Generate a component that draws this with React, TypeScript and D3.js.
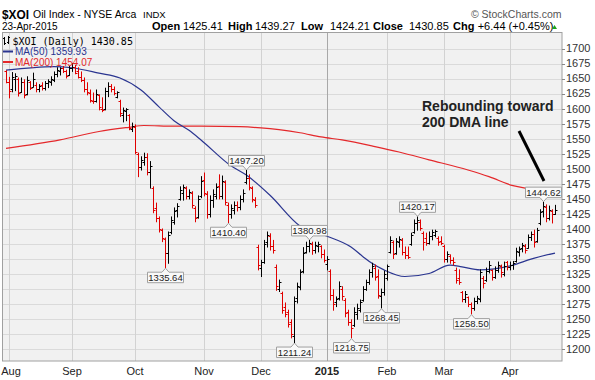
import React from "react";
import * as d3 from "d3";

// [open, high, low, close] — Jul 31 2014 .. Apr 23 2015 (daily)
const ohlc: [number, number, number, number][] = [
  [1662,1663,1643,1645],[1645,1652,1618,1630],[1632,1660,1628,1652],[1650,1658,1630,1655],[1650,1651,1621,1626],
  [1628,1651,1627,1645],[1645,1648,1618,1622],[1625,1653,1623,1648],[1644,1645,1632,1634],[1636,1659,1636,1650],
  [1640,1643,1628,1632],[1632,1640,1628,1638],[1640,1643,1631,1634],[1634,1645,1631,1643],[1642,1648,1635,1646],
  [1645,1653,1639,1650],[1648,1661,1645,1658],[1657,1668,1653,1665],[1663,1668,1656,1667],[1668,1670,1660,1662],
  [1662,1664,1651,1655],[1656,1670,1655,1668],[1668,1675,1662,1670],[1670,1672,1658,1660],[1662,1668,1651,1653],
  [1652,1661,1645,1648],[1648,1651,1628,1632],[1632,1643,1623,1627],[1626,1631,1611,1614],[1613,1626,1609,1612],
  [1612,1631,1611,1625],[1622,1623,1598,1602],[1600,1618,1595,1598],[1600,1634,1598,1630],[1630,1643,1620,1638],
  [1638,1640,1628,1632],[1632,1636,1623,1626],[1620,1628,1618,1627],[1612,1614,1587,1592],[1590,1601,1578,1598],
  [1596,1600,1580,1599],[1590,1590,1565,1568],[1566,1576,1562,1572],[1570,1573,1525,1528],[1525,1526,1487,1503],
  [1503,1520,1498,1515],[1512,1526,1506,1520],[1520,1525,1490,1494],[1494,1512,1468,1505],[1468,1470,1427,1432],
  [1435,1443,1412,1418],[1418,1420,1395,1400],[1398,1400,1379,1385],[1383,1385,1335.64,1360],[1360,1395,1343,1390],
  [1395,1420,1392,1415],[1412,1435,1408,1430],[1432,1442,1420,1438],[1450,1470,1448,1465],[1460,1473,1448,1470],
  [1468,1470,1450,1455],[1455,1465,1450,1462],[1460,1462,1435,1440],[1435,1437,1412,1418],[1420,1455,1418,1450],
  [1455,1487,1452,1480],[1482,1493,1455,1460],[1458,1462,1418,1425],[1425,1455,1420,1448],[1448,1465,1436,1458],
  [1455,1475,1450,1470],[1472,1490,1450,1455],[1455,1488,1450,1480],[1478,1480,1440,1445],[1440,1443,1410.4,1425],
  [1425,1440,1418,1435],[1432,1445,1425,1440],[1440,1445,1430,1436],[1436,1455,1432,1450],[1450,1465,1445,1460],
  [1478,1497.2,1475,1485],[1485,1490,1465,1470],[1468,1470,1445,1450],[1448,1452,1436,1440],[1370,1373,1332,1340],
  [1335,1348,1321,1345],[1345,1381,1343,1375],[1378,1395,1370,1390],[1388,1392,1365,1372],[1372,1381,1360,1365],
  [1337,1340,1298,1305],[1300,1315,1296,1312],[1293,1295,1260,1265],[1270,1277,1254,1258],[1262,1265,1237,1242],
  [1245,1249,1219,1225],[1222,1287,1211.24,1280],[1285,1310,1277,1305],[1303,1332,1299,1328],[1330,1369,1327,1360],
  [1362,1378,1360,1372],[1372,1380.98,1362,1376],[1375,1378,1358,1365],[1365,1378,1360,1374],[1372,1378,1362,1375],
  [1372,1372,1352,1358],[1358,1365,1345,1348],[1342,1354,1332,1350],[1330,1332,1282,1290],[1290,1299,1265,1275],
  [1278,1287,1271,1284],[1285,1312,1282,1305],[1300,1304,1282,1288],[1282,1284,1254,1260],[1262,1265,1240,1245],
  [1245,1249,1218.75,1235],[1240,1269,1238,1262],[1258,1275,1250,1268],[1265,1282,1262,1278],[1282,1304,1280,1300],
  [1300,1315,1298,1312],[1312,1332,1308,1328],[1328,1343,1320,1338],[1335,1340,1315,1320],[1322,1332,1285,1290],
  [1288,1300,1268.45,1295],[1296,1330,1290,1325],[1318,1340,1315,1338],[1362,1387,1360,1382],[1378,1380,1351,1358],
  [1360,1384,1358,1380],[1378,1387,1370,1384],[1382,1384,1357,1362],[1362,1370,1351,1356],[1356,1370,1351,1354],
  [1375,1393,1373,1390],[1395,1415,1393,1410],[1410,1420.17,1398,1415],[1412,1415,1398,1402],[1393,1395,1365,1378],
  [1385,1393,1373,1376],[1376,1395,1375,1388],[1388,1398,1382,1395],[1390,1398,1387,1396],[1385,1387,1373,1378],
  [1380,1387,1374,1376],[1372,1373,1345,1350],[1350,1362,1345,1358],[1355,1357,1343,1348],[1348,1352,1340,1345],
  [1332,1335,1310,1315],[1318,1332,1308,1312],[1295,1296,1279,1283],[1283,1296,1278,1292],[1287,1287,1271,1275],
  [1275,1277,1258.5,1268],[1268,1285,1265,1280],[1280,1288,1276,1285],[1284,1332,1279,1328],[1318,1321,1302,1310],
  [1315,1335,1313,1330],[1330,1346,1327,1340],[1332,1332,1315,1320],[1320,1337,1318,1332],[1332,1345,1328,1340],
  [1338,1340,1320,1328],[1325,1345,1322,1338],[1345,1346,1332,1336],[1336,1345,1332,1340],[1340,1346,1333,1343],
  [1346,1368,1345,1364],[1362,1370,1355,1367],[1368,1376,1362,1373],[1372,1374,1360,1365],[1368,1390,1368,1386],
  [1386,1395,1381,1392],[1392,1398,1370,1378],[1380,1401,1378,1398],[1410,1432,1407,1428],[1430,1444.62,1420,1438],
  [1436,1440,1412,1418],[1418,1438,1415,1432],[1430,1432,1410,1424.41],[1425.41,1439.27,1424.21,1430.85],
];

const monthLabels = ["Aug", "Sep", "Oct", "Nov", "Dec", "2015", "Feb", "Mar", "Apr"];
const monthStartIdx = [1, 22, 43, 66, 85, 107, 127, 146, 168];
const yTicks = d3.range(1200, 1701, 25);

// Moving averages (bar index -> value)
const ma50Idx = [0, 16, 22, 31, 38, 45, 51, 56, 61, 65, 75, 80, 88, 98, 107, 115, 119, 122, 126, 133, 141, 148, 152, 158, 169, 175, 183];
const ma50Val = [1664, 1670, 1668, 1659, 1651, 1631, 1603, 1580, 1564, 1548, 1505, 1490, 1456, 1405, 1388, 1370, 1354, 1343, 1332, 1321, 1326, 1340, 1337, 1332, 1340, 1350, 1359.93];
const ma200Idx = [0, 18, 31, 41, 46, 56, 65, 78, 85, 91, 98, 105, 112, 123, 131, 141, 154, 161, 169, 174, 183];
const ma200Val = [1534, 1548, 1562, 1569, 1572, 1571, 1571, 1570, 1568, 1565, 1560, 1553, 1548, 1537, 1528, 1515, 1498, 1487, 1472, 1467, 1454.07];

// swing labels: bar index and whether it marks the high or the low
const swingIdx = [53, 74, 80, 96, 101, 115, 125, 137, 155, 179];
const swingKind = ["low", "low", "high", "low", "high", "low", "low", "high", "low", "high"];

const RED = "#e00000";
const BLACK = "#000000";
const NAVY = "#2a3590";
const MARED = "#e4282b";

export default function App() {
  const L = 2, R = 562, T = 32.5, B = 361;
  const x = d3.scaleLinear().domain([0, ohlc.length - 1]).range([6, 555]);
  const y = d3.scaleLinear().domain([1200, 1700]).range([349.3, 48.5]);

  const ma50Line = d3.line<number>()
    .x((_, i) => x(ma50Idx[i]))
    .y((d) => y(d))
    .curve(d3.curveMonotoneX);
  const ma200Line = d3.line<number>()
    .x((_, i) => x(ma200Idx[i]))
    .y((d) => y(d))
    .curve(d3.curveMonotoneX);

  const crisp = (v: number) => Math.round(v) + 0.5;
  const sans = "Arial, 'Liberation Sans', Helvetica, sans-serif";

  return (
    <svg width={595} height={380} style={{ position: "absolute", left: 0, top: 0, background: "#fff" }}
      fontFamily={sans}>
      <rect x={0} y={0} width={595} height={380} fill="#ffffff" />
      {/* header */}
      <text x={2} y={18.5} fontSize={13.5} fontWeight="bold" fill="#000" textLength={27} lengthAdjust="spacingAndGlyphs">$XOI</text>
      <text x={33} y={17.5} fontSize={10.5} fill="#000">Oil Index - NYSE Arca</text>
      <text x={143} y={17.5} fontSize={9.5} fill="#000">INDX</text>
      <text x={2} y={30} fontSize={10} fill="#000">23-Apr-2015</text>
      <g fontSize={11} fill="#000">
        <text x={152} y={30} fontWeight="bold">Open</text>
        <text x={183} y={30}>1425.41</text>
        <text x={228} y={30} fontWeight="bold">High</text>
        <text x={255} y={30}>1439.27</text>
        <text x={301} y={30} fontWeight="bold">Low</text>
        <text x={330} y={30}>1424.21</text>
        <text x={373} y={30} fontWeight="bold">Close</text>
        <text x={409} y={30}>1430.85</text>
        <text x={453} y={30} fontWeight="bold">Chg</text>
        <text x={477.7} y={30}>+6.44 (+0.45%)</text>
      </g>
      <path d="M552,29 L557,29 L554.5,25 Z" fill="#1aa31a" />
      <text x={561.5} y={18} fontSize={10.5} fill="#555" textAnchor="end">© StockCharts.com</text>

      {/* plot area */}
      <rect x={L} y={T} width={R - L} height={B - T} fill="#f1f1f1" />
      {yTicks.map((t) => (
        <line key={"g" + t} x1={L} x2={R} y1={crisp(y(t))} y2={crisp(y(t))} stroke="#dadada" strokeWidth={1} />
      ))}
      {monthStartIdx.map((mi, k) => (
        <line key={"v" + k} x1={crisp(x(mi))} x2={crisp(x(mi))} y1={T} y2={B}
          stroke={monthLabels[k] === "2015" ? "#a8a8a8" : "#d2d2d2"} strokeWidth={1} />
      ))}

      {/* moving averages */}
      <path d={ma200Line(ma200Val) || ""} fill="none" stroke={MARED} strokeWidth={1.2} />
      <path d={ma50Line(ma50Val) || ""} fill="none" stroke={NAVY} strokeWidth={1.2} />

      {/* OHLC bars */}
      {ohlc.map((d, i) => {
        const [o, h, l, c] = d;
        const prev = i > 0 ? ohlc[i - 1][3] : o;
        const col = c < prev ? RED : BLACK;
        const cx = crisp(x(i));
        return (
          <g key={"b" + i} stroke={col} strokeWidth={1}>
            <line x1={cx} x2={cx} y1={y(h) - 0.5} y2={y(l) + 0.5} />
            <line x1={cx - 2} x2={cx} y1={crisp(y(o))} y2={crisp(y(o))} />
            <line x1={cx} x2={cx + 2} y1={crisp(y(c))} y2={crisp(y(c))} />
          </g>
        );
      })}

      {/* swing labels */}
      {swingIdx.map((si, k) => {
        const d = ohlc[si];
        const isHigh = swingKind[k] === "high";
        const val = isHigh ? d[1] : d[2];
        const cx = crisp(x(si));
        const bw = 36, bh = 10.5;
        const left = cx - bw / 2, right = cx + bw / 2;
        let path: string, ty: number;
        if (isHigh) {
          const tip = y(val) - 0.5;
          const bot = tip - 4;
          const top = bot - bh;
          path = `M${left},${top} H${right} V${bot} H${cx + 3.5} L${cx},${tip} L${cx - 3.5},${bot} H${left} Z`;
          ty = top + 8.6;
        } else {
          const tip = y(val) + 0.5;
          const top = tip + 4;
          const bot = top + bh;
          path = `M${left},${top} H${cx - 3.5} L${cx},${tip} L${cx + 3.5},${top} H${right} V${bot} H${left} Z`;
          ty = top + 8.6;
        }
        return (
          <g key={"s" + k}>
            <path d={path} fill="#f9f9f9" stroke="#a0a0a0" strokeWidth={1} />
            <text x={cx} y={ty} fontSize={9.5} textAnchor="middle" fill="#222">{val.toFixed(2)}</text>
          </g>
        );
      })}

      {/* legend */}
      <g stroke={BLACK} strokeWidth={1}>
        <line x1={4.5} x2={4.5} y1={37} y2={45} />
        <line x1={3} x2={4.5} y1={38.5} y2={38.5} />
        <line x1={4.5} x2={6} y1={43.5} y2={43.5} />
        <line x1={8.5} x2={8.5} y1={36} y2={44} />
        <line x1={7} x2={8.5} y1={42.5} y2={42.5} />
        <line x1={8.5} x2={10} y1={37.5} y2={37.5} />
      </g>
      <text x={12.5} y={45} fontSize={10} fontFamily="'DejaVu Sans Mono', monospace" fill="#000">$XOI (Daily) 1430.85</text>
      <line x1={3} x2={13} y1={51.5} y2={51.5} stroke={NAVY} strokeWidth={2} />
      <text x={15} y={55} fontSize={10} fill={NAVY}>MA(50) 1359.93</text>
      <line x1={3} x2={13} y1={62} y2={62} stroke={MARED} strokeWidth={2} />
      <text x={15} y={65.5} fontSize={10} fill={MARED}>MA(200) 1454.07</text>

      {/* annotation */}
      <text x={422} y={110.5} fontSize={14} fontWeight="bold" fill="#222">Rebounding toward</text>
      <text x={422} y={126.5} fontSize={14} fontWeight="bold" fill="#222">200 DMA line</text>
      <line x1={519} y1={131} x2={544} y2={181} stroke="#000" strokeWidth={3} />

      {/* frame */}
      <rect x={L + 0.5} y={T} width={R - L - 0.5} height={B - T} fill="none" stroke="#a0a0a0" strokeWidth={1} />

      {/* right axis */}
      {yTicks.map((t) => (
        <g key={"t" + t}>
          <line x1={R} x2={R + 3} y1={crisp(y(t))} y2={crisp(y(t))} stroke="#888" />
          <text x={566} y={y(t)} dy="0.35em" fontSize={11} fill="#333">{t}</text>
        </g>
      ))}

      {/* bottom axis */}
      {monthStartIdx.map((mi, k) => {
        const lbl = monthLabels[k];
        const cx = Math.max(x(mi), 11);
        return (
          <text key={"m" + k} x={cx} y={375} fontSize={11} textAnchor="middle"
            fontWeight={lbl === "2015" ? "bold" : "normal"} fill="#222">{lbl}</text>
        );
      })}
    </svg>
  );
}
